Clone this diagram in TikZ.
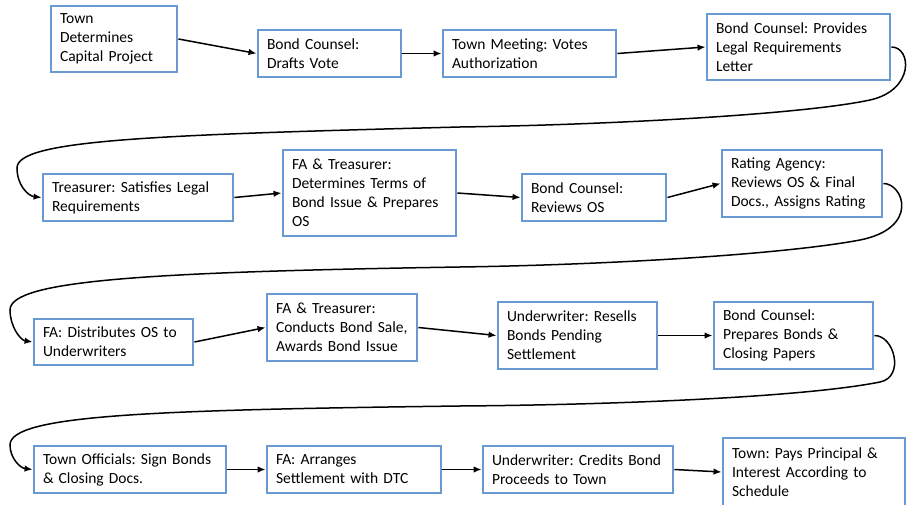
\documentclass[tikz,border=0pt]{standalone}
\usepackage{fontspec}
\setmainfont{Carlito}
\frenchspacing
\usetikzlibrary{arrows.meta}
\usepackage{xcolor}
\definecolor{boxblue}{HTML}{6A9AD4}

\tikzset{
  stage/.style = {draw = boxblue, line width = 2.9pt, fill = white,
    rectangle, align = left, inner xsep = 9pt, inner ysep = 0pt,
    font = \fontsize{15.5}{19}\selectfont},
  flow/.style = {-{Latex[length=8pt, width=6.5pt]}, line width = 1.5pt}
}

\begin{document}
\begin{tikzpicture} [x = 1pt, y = 1pt]
\useasboundingbox (0,0) rectangle (907,-505);

% row 1:
\node [stage, text width = 108pt, minimum height = 66pt] (town) at (114,-39)
	{Town\\Determines\\Capital Project};
\node [stage, text width = 125pt, minimum height = 47pt] (drafts) at (329.5,-53.5)
	{Bond Counsel:\\Drafts Vote};
\node [stage, text width = 155pt, minimum height = 47pt] (meeting) at (529.5,-53.5)
	{Town Meeting: Votes\\Authorization};
\node [stage, text width = 165pt, minimum height = 66pt] (letter) at (798.5,-47)
	{Bond Counsel: Provides\\Legal Requirements\\Letter};

% row 2:
\node [stage, text width = 172pt, minimum height = 47pt] (satisfies) at (138,-197.5)
	{Treasurer: Satisfies Legal\\Requirements};
\node [stage, text width = 155pt, minimum height = 86pt] (terms) at (369.5,-193)
	{FA \& Treasurer:\\Determines Terms of\\Bond Issue \& Prepares\\OS};
\node [stage, text width = 126pt, minimum height = 47pt] (reviews) at (594,-197.5)
	{Bond Counsel:\\Reviews OS};
\node [stage, text width = 142pt, minimum height = 67pt] (rating) at (802,-183.5)
	{Rating Agency:\\Reviews OS \& Final\\Docs., Assigns Rating};

% row 3:
\node [stage, text width = 141pt, minimum height = 46pt] (distributes) at (113.5,-342)
	{FA: Distributes OS to\\Underwriters};
\node [stage, text width = 132pt, minimum height = 67pt] (sale) at (342,-327.5)
	{FA \& Treasurer:\\Conducts Bond Sale,\\Awards Bond Issue};
\node [stage, text width = 141pt, minimum height = 67pt] (resells) at (577.5,-335.5)
	{Underwriter: Resells\\Bonds Pending\\Settlement};
\node [stage, text width = 141pt, minimum height = 67pt] (closing) at (793.5,-335.5)
	{Bond Counsel:\\Prepares Bonds \&\\Closing Papers};

% row 4:
\node [stage, text width = 174pt, minimum height = 47pt] (sign) at (130,-469.5)
	{Town Officials: Sign Bonds\\\& Closing Docs.};
\node [stage, text width = 156pt, minimum height = 47pt] (dtc) at (354,-469.5)
	{FA: Arranges\\Settlement with DTC};
\node [stage, text width = 172pt, minimum height = 47pt] (credits) at (578,-469.5)
	{Underwriter: Credits Bond\\Proceeds to Town};
\node [stage, text width = 164pt, minimum height = 68pt] (pays) at (814,-472)
	{Town: Pays Principal \&\\Interest According to\\Schedule};

% straight steps:
\draw [flow] (town.east) -- (drafts.west);
\draw [flow] (drafts.east) -- (meeting.west);
\draw [flow] (meeting.east) -- (letter.west);
\draw [flow] (satisfies.east) -- (terms.west);
\draw [flow] (terms.east) -- (reviews.west);
\draw [flow] (reviews.east) -- (rating.west);
\draw [flow] (distributes.east) -- (sale.west);
\draw [flow] (sale.east) -- (resells.west);
\draw [flow] (resells.east) -- (closing.west);
\draw [flow] (sign.east) -- (dtc.west);
\draw [flow] (dtc.east) -- (credits.west);
\draw [flow] (credits.east) -- (pays.west);

% row changes:
\draw [flow] (letter.east) .. controls +(20,0) and (915,-90) .. (870,-100)
	.. controls (800,-115) and (600,-125) .. (460,-127)
	.. controls (150,-135) and (17,-140) .. (17,-168)
	.. controls (17,-185) and (28,-196) .. (satisfies.west);
\draw [flow] (rating.east) .. controls +(20,0) and (920,-228) .. (860,-240)
	.. controls (780,-255) and (600,-265) .. (460,-267)
	.. controls (150,-272) and (10,-280) .. (10,-310)
	.. controls (10,-326) and (20,-340) .. (distributes.west);
\draw [flow] (closing.east) .. controls +(20,0) and (905,-377) .. (880,-382)
	.. controls (800,-398) and (600,-405) .. (460,-406)
	.. controls (150,-410) and (10,-415) .. (10,-445)
	.. controls (10,-458) and (20,-468) .. (sign.west);
\end{tikzpicture}
\end{document}
